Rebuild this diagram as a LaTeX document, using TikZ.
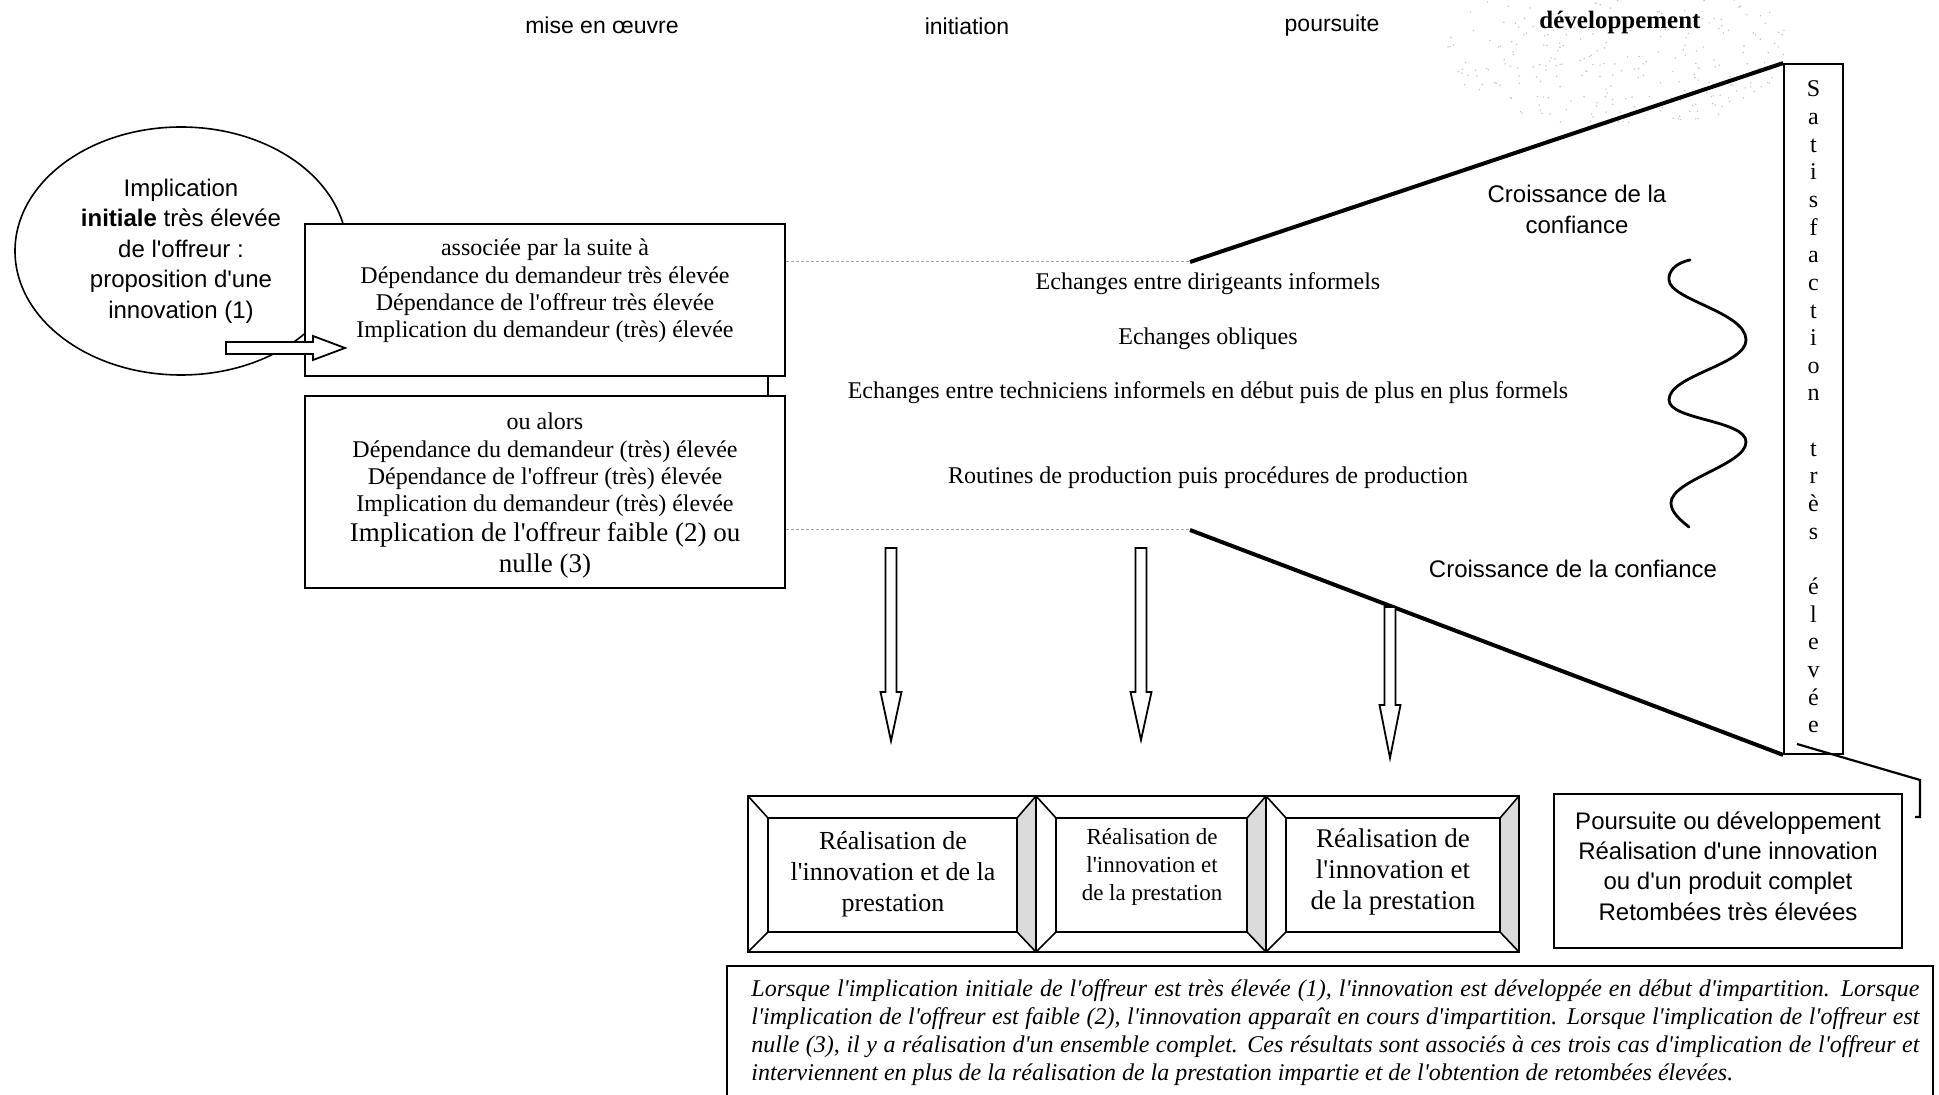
\documentclass[tikz,border=0pt]{standalone}
\usepackage{fontspec}
\setmainfont{Liberation Serif}[Ligatures=TeXOff]
\newfontfamily\sansf{Liberation Sans}
\usetikzlibrary{shapes.geometric,calc}
\newcommand{\setfs}[2]{\fontsize{#1}{#2}\selectfont}
\tikzset{
  boxed/.style={draw, line width=0.8pt, fill=white, inner sep=0pt},
  thinbox/.style={draw, line width=0.6pt, fill=white, inner sep=0pt},
  thickline/.style={line width=2pt},
  dotline/.style={gray!70, line width=0.5pt, dash pattern=on 1.5pt off 1pt},
  hollow/.style={draw, line width=0.9pt, fill=white, line join=miter},
  frameline/.style={line width=0.8pt},
  bevelshade/.style={fill=gray!28},
  toplab/.style={font=\sansf\setfs{11.5}{13}},
  midtext/.style={font=\setfs{12}{14}},
  wave/.style={line width=1.4pt, line cap=round}
}
\newcommand{\bevelframe}[5]{%
  \coordinate (#1-a) at (#2,#3);
  \coordinate (#1-b) at (#4,#3);
  \coordinate (#1-c) at (#4,#5);
  \coordinate (#1-d) at (#2,#5);
  \coordinate (#1-ia) at ($(#1-a)+(20,22)$);
  \coordinate (#1-ib) at ($(#1-b)+(-19,22)$);
  \coordinate (#1-ic) at ($(#1-c)+(-19,-20)$);
  \coordinate (#1-id) at ($(#1-d)+(20,-20)$);
  \fill[bevelshade] (#1-b) -- (#1-c) -- (#1-ic) -- (#1-ib) -- cycle;
  \draw[frameline] (#1-a) rectangle (#1-c);
  \draw[frameline] (#1-ia) rectangle (#1-ic);
  \draw[frameline] (#1-a) -- (#1-ia) (#1-b) -- (#1-ib) (#1-c) -- (#1-ic) (#1-d) -- (#1-id);
}
\newcommand{\hollowdown}[4]{%
  \draw[hollow] (#1-5.5,#2) -- (#1+5.5,#2) -- (#1+5.5,#3) -- (#1+10.5,#3) -- (#1,#4)
     -- (#1-10.5,#3) -- (#1-5.5,#3) -- cycle;
}
\begin{document}
\begin{tikzpicture}[x=0.5pt,y=-0.5pt]
\useasboundingbox (0,0) rectangle (1939,1095);
\fill[white] (0,0) rectangle (1939,1095);

% speckle near "developpement"
\pgfmathsetseed{7}
\foreach \i in {1,...,300} {
  \pgfmathsetmacro{\ra}{360*rnd}
  \pgfmathsetmacro{\rr}{sqrt(rnd)}
  \fill[gray!45] ({1620+175*\rr*cos(\ra)},{50+78*\rr*sin(\ra)}) circle (0.42pt);
}

% top labels
\node[toplab] (l1) at (602,25) {mise en œuvre};
\node[toplab] (l2) at (967,26) {initiation};
\node[toplab] (l3) at (1332,26) {poursuite};
\node[font=\bfseries\setfs{12.5}{14}] (l4) at (1620,22) {développement};

% ellipse
\node[draw, ellipse, line width=0.8pt, minimum width=166pt, minimum height=124pt, inner sep=0pt,
      font=\sansf\setfs{12}{15.2}, align=center] (ell) at (181,251)
  {Implication\\\textbf{initiale} très élevée\\de l'offreur :\\proposition d'une\\innovation (1)};

% box 1 and box 2
\node[boxed, minimum width=240pt, minimum height=76pt] (box1) at (545,300) {};
\node[font=\setfs{12}{13.6}, align=center] (t1) at (545,291)
  {associée par la suite à\\Dépendance du demandeur très élevée\\Dépendance de l'offreur très élevée\\Implication du demandeur (très) élevée};
\node[boxed, minimum width=240pt, minimum height=96pt] (box2) at (545,492) {};
\node[font=\setfs{12}{13.6}, align=center] (t2) at (545,496)
  {ou alors\\Dépendance du demandeur (très) élevée\\Dépendance de l'offreur (très) élevée\\Implication du demandeur (très) élevée\\[1.5pt]
   {\setfs{13.5}{15.5}Implication de l'offreur faible (2) ou}\\[2pt]{\setfs{13.5}{15.5}nulle (3)}};
\draw[line width=0.8pt] ([xshift=-9pt]box1.south east) -- ([xshift=-9pt]box2.north east);

% hollow right arrow from ellipse into box 1
\coordinate (arrS) at (226,348);
\coordinate (arrE) at (345,348);
\draw[hollow] ($(arrS)+(0,-6)$) -- ($(arrE)+(-32,-6)$) -- ($(arrE)+(-32,-12)$) -- (arrE)
   -- ($(arrE)+(-32,12)$) -- ($(arrE)+(-32,6)$) -- ($(arrS)+(0,6)$) -- cycle;

% funnel
\coordinate (tl) at (1190,262);
\coordinate (bl) at (1190,530);
\node[draw, line width=0.9pt, minimum width=29.5pt, minimum height=345pt, inner sep=0pt] (sat) at (1813.5,409) {};
\node[font=\setfs{12}{13.83}, align=center] (sattxt) at (1813.5,407)
  {S\\a\\t\\i\\s\\f\\a\\c\\t\\i\\o\\n\\~\\t\\r\\è\\s\\~\\é\\l\\e\\v\\é\\e};
\draw[dotline] (tl -| box1.east) -- (tl);
\draw[dotline] (bl -| box2.east) -- (bl);
\draw[thickline] (tl) -- (sat.north west);
\draw[thickline] (bl) -- (sat.south west);
\draw[line width=1.1pt] (1797,744) -- (1920,780) -- (1920,817) -- (1915,817);

\node[font=\sansf\setfs{12}{15.5}, align=center] (cr1) at (1577,209) {Croissance de la\\confiance};
\node[font=\sansf\setfs{12}{14}] (cr2) at (1573,569) {Croissance de la confiance};

\node[midtext] (m1) at (1208,284) {Echanges entre dirigeants informels};
\node[midtext] (m2) at (1208,339) {Echanges obliques};
\node[midtext] (m3) at (1208,393) {Echanges entre techniciens informels en début puis de plus en plus formels};
\node[midtext] (m4) at (1208,478) {Routines de production puis procédures de production};

% wave
\draw[wave] (1690,260) .. controls (1675,263) and (1668,272) .. (1669,280)
  .. controls (1670,300) and (1746,312) .. (1746,340)
  .. controls (1746,365) and (1669,375) .. (1669,400)
  .. controls (1669,420) and (1746,420) .. (1746,442)
  .. controls (1746,465) and (1671,480) .. (1671,503)
  .. controls (1671,512) and (1680,520) .. (1689,527);

% down arrows
\hollowdown{891}{548}{692}{741}
\hollowdown{1141}{548}{692}{740}
\hollowdown{1390}{607}{705}{758}

% bevel frames
\bevelframe{f1}{748}{796}{1036}{952}
\bevelframe{f2}{1036}{796}{1266}{952}
\bevelframe{f3}{1266}{796}{1519}{952}
\node[font=\setfs{13}{15.5}, align=center] (ft1) at (893,874) {Réalisation de\\l'innovation et de la\\prestation};
\node[font=\setfs{11.5}{14}, align=center] (ft2) at (1152,867) {Réalisation de\\l'innovation et\\de la prestation};
\node[font=\setfs{13.5}{15.5}, align=center] (ft3) at (1393,872) {Réalisation de\\l'innovation et\\de la prestation};

% result box
\node[thinbox, minimum width=174pt, minimum height=77pt] (pours) at (1728,871) {};
\node[font=\sansf\setfs{12}{15.2}, align=center] (pourstxt) at (1728,866)
  {Poursuite ou développement\\Réalisation d'une innovation\\ou d'un produit complet\\Retombées très élevées};

% note box
\draw[line width=0.8pt] (727,1100) -- (727,966) -- (1933,966) -- (1933,1100);
\node[anchor=north west, inner sep=0pt, font=\itshape\setfs{12}{14}, align=left] (note) at (751,979)
  {\makebox[584pt][s]{Lorsque l'implication initiale de l'offreur est très élevée (1), l'innovation est développée en début d'impartition. Lorsque}\\
   \makebox[584pt][s]{l'implication de l'offreur est faible (2), l'innovation apparaît en cours d'impartition. Lorsque l'implication de l'offreur est}\\
   \makebox[584pt][s]{nulle (3), il y a réalisation d'un ensemble complet. Ces résultats sont associés à ces trois cas d'implication de l'offreur et}\\
   interviennent en plus de la réalisation de la prestation impartie et de l'obtention de retombées élevées.};
\end{tikzpicture}
\end{document}
